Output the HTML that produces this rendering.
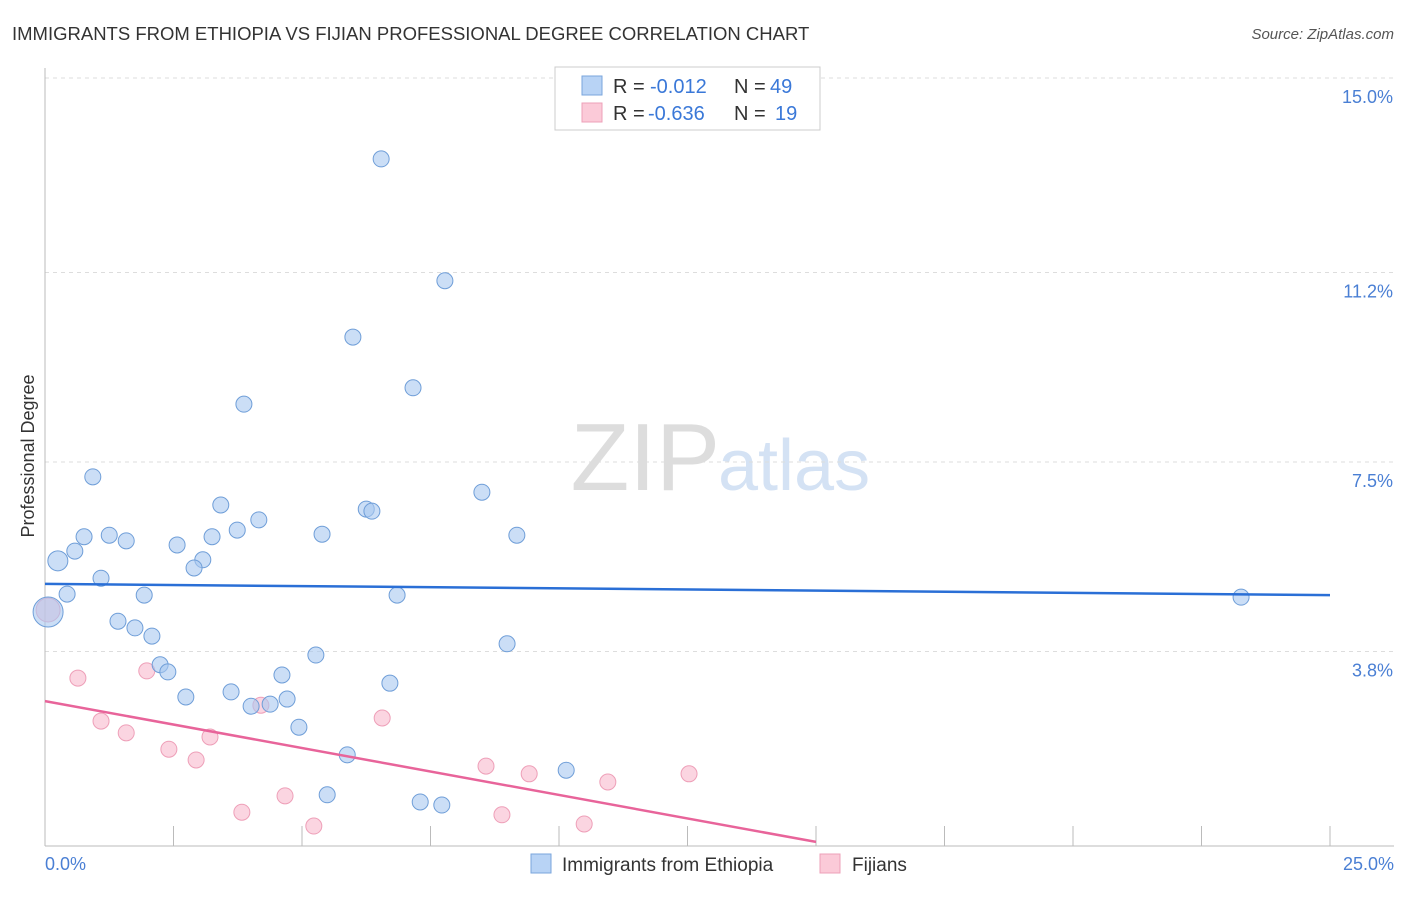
<!DOCTYPE html>
<html><head><meta charset="utf-8"><style>
body{margin:0;background:#fff;font-family:"Liberation Sans",sans-serif;}
svg text{font-family:"Liberation Sans",sans-serif;}
</style></head><body>
<svg id="chart" width="1406" height="892">
<text x="12" y="40" font-size="18.5" fill="#333">IMMIGRANTS FROM ETHIOPIA VS FIJIAN PROFESSIONAL DEGREE CORRELATION CHART</text>
<text x="1394" y="39" font-size="15" fill="#555" font-style="italic" text-anchor="end">Source: ZipAtlas.com</text>
<text x="720" y="490" font-size="96" fill="#ddd" text-anchor="end" font-family="Liberation Serif">ZIP</text>
<text x="718" y="490" font-size="72" fill="#d4e2f4">atlas</text>
<g id="grid"></g><g id="axes"></g><g id="marks"></g>
<text transform="translate(34,456) rotate(-90)" font-size="18" fill="#333" text-anchor="middle">Professional Degree</text>
<rect x="555" y="67" width="265" height="63" fill="#fff" stroke="#ccc"/>
<rect x="582" y="76" width="20" height="19" fill="#b8d3f5" stroke="#7aa6dc"/>
<rect x="582" y="103" width="20" height="19" fill="#fbcad8" stroke="#eea0b8"/>
<g font-size="20">
<text x="613" y="93" fill="#333">R =</text><text x="650" y="93" fill="#3a78d8">-0.012</text><text x="734" y="93" fill="#333">N =</text><text x="770" y="93" fill="#3a78d8">49</text></g>
<g font-size="20">
<text x="613" y="120" fill="#333">R =</text><text x="648" y="120" fill="#3a78d8">-0.636</text><text x="734" y="120" fill="#333">N =</text><text x="775" y="120" fill="#3a78d8">19</text></g>
<rect x="531" y="854" width="20" height="19" fill="#b8d3f5" stroke="#7aa6dc"/>
<text x="562" y="871" font-size="19" fill="#333">Immigrants from Ethiopia</text>
<rect x="820" y="854" width="20" height="19" fill="#fbcad8" stroke="#eea0b8"/>
<text x="852" y="871" font-size="19" fill="#333">Fijians</text>
</svg>
<script>
const blueX=[6.54,7.78,5.99,7.16,3.87,0.93,8.50,3.42,6.25,6.36,4.16,3.74,5.39,9.18,0.76,1.25,1.58,3.25,2.57,0.58,0.25,3.07,2.90,1.09,0.43,1.93,6.85,23.27,0.06,1.42,1.75,2.08,8.99,5.27,2.24,2.39,4.61,6.71,3.62,2.74,4.71,4.01,4.38,4.94,5.88,10.14,5.49,7.30,7.72];
const blueY=[13.42,11.04,9.94,8.95,8.63,7.21,6.91,6.66,6.58,6.54,6.37,6.17,6.09,6.07,6.04,6.07,5.96,6.04,5.88,5.76,5.57,5.59,5.43,5.23,4.92,4.90,4.90,4.86,4.57,4.39,4.26,4.10,3.95,3.73,3.54,3.40,3.34,3.18,3.01,2.91,2.87,2.73,2.77,2.32,1.78,1.48,1.00,0.86,0.80];
const pinkX=[0.06,0.64,1.98,1.09,1.58,2.41,3.21,2.94,4.20,6.56,4.67,3.83,5.23,8.58,9.42,10.95,12.53,8.89,10.49];
const pinkY=[4.61,3.28,3.42,2.44,2.21,1.89,2.13,1.68,2.75,2.50,0.98,0.66,0.39,1.56,1.41,1.25,1.41,0.61,0.43];
const blueTrend=[5.12,4.90];
const pinkTrend=[2.83,0.08];
const pinkTrendEndX=15;
const yTicks=[15.0,11.2,7.5,3.8];
const yTickLabels=["15.0%","11.2%","7.5%","3.8%"];
const xTicks=[0,2.5,5,7.5,10,12.5,15,17.5,20,22.5,25];
const X0=45,X1=1330,Yb=846,ppy=51.2;
const sx=v=>X0+(v/25)*(X1-X0);
const sy=v=>Yb-v*ppy;
const NS="http://www.w3.org/2000/svg";
function mk(tag,attrs,parent){const e=document.createElementNS(NS,tag);for(const k in attrs)e.setAttribute(k,attrs[k]);document.getElementById(parent).appendChild(e);return e;}
yTicks.forEach((t,i)=>{
 const g=mk('line',{x1:X0,x2:1394,y1:sy(t),y2:sy(t),stroke:'#ddd','stroke-dasharray':'4,4'},'grid');
 
 
 const l=mk('text',{x:1393,y:sy(t)+25,'font-size':18,fill:'#4a7fd4','text-anchor':'end'},'axes');
 l.textContent=yTickLabels[i];
 
 
});
const ya=mk('line',{x1:X0,x2:X0,y1:68,y2:846,stroke:'#bbb'},'axes');


const xa=mk('line',{x1:X0,x2:1394,y1:846,y2:846,stroke:'#bbb'},'axes');


xTicks.forEach(t=>{
 const k=mk('line',{x1:sx(t),x2:sx(t),y1:826,y2:846,stroke:'#bbb'},'axes');
 
 
});
const xl0=mk('text',{x:45,y:870,'font-size':18,fill:'#4a7fd4'},'axes');xl0.textContent='0.0%';


const xl1=mk('text',{x:1394,y:870,'font-size':18,fill:'#4a7fd4','text-anchor':'end'},'axes');xl1.textContent='25.0%';


pinkX.forEach((x,i)=>{
 const c=mk('circle',{cx:sx(x),cy:sy(pinkY[i]),r:i===0?12:8,fill:'#f8b9cd','fill-opacity':0.6,stroke:'#ee9fb8','stroke-width':1},'marks');
 
 
});
blueX.forEach((x,i)=>{
 const c=mk('circle',{cx:sx(x),cy:sy(blueY[i]),r:i===28?15:(i===20?10:8),fill:'#a9c8f0','fill-opacity':0.6,stroke:'#6f9ed8','stroke-width':1},'marks');
 
 
});
const bt=mk('line',{x1:sx(0),y1:sy(blueTrend[0]),x2:sx(25),y2:sy(blueTrend[1]),stroke:'#2a6fd6','stroke-width':2.5},'marks');


const pt=mk('line',{x1:sx(0),y1:sy(pinkTrend[0]),x2:sx(pinkTrendEndX),y2:sy(pinkTrend[1]),stroke:'#e8649a','stroke-width':2.5},'marks');


</script>
</body></html>
